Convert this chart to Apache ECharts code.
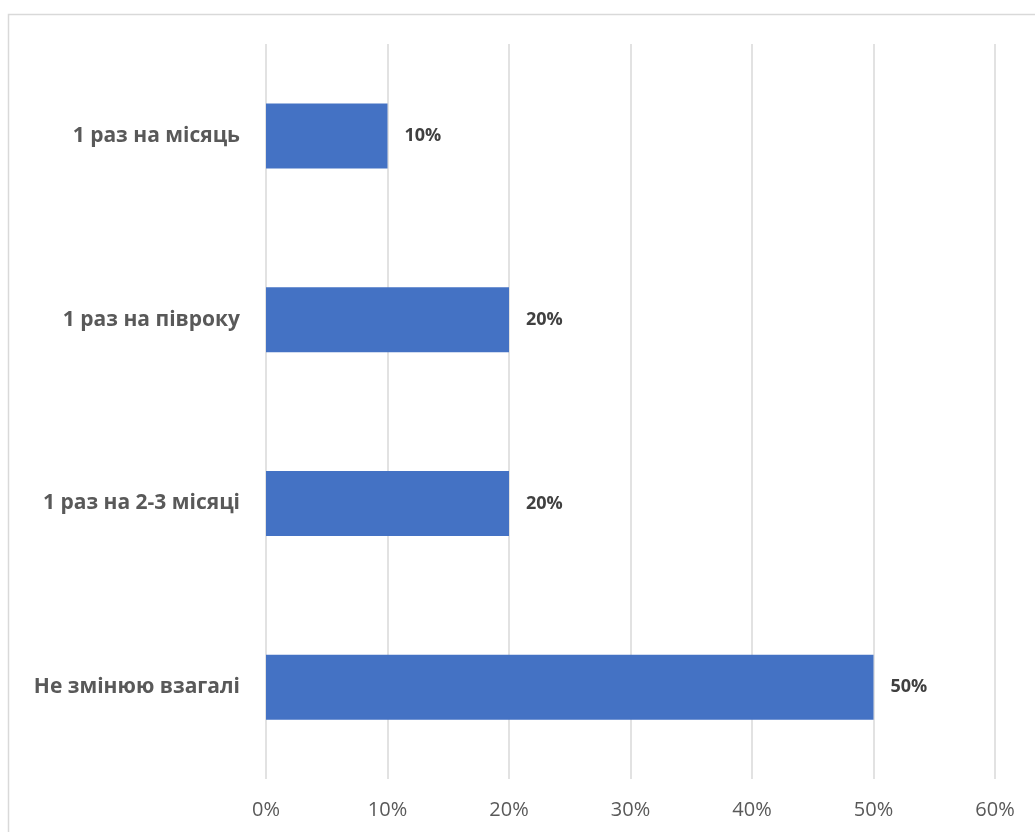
<!DOCTYPE html>
<html>
<head>
<meta charset="utf-8">
<script src="https://cdn.jsdelivr.net/npm/echarts@6/dist/echarts.min.js"></script>
<style>
  html, body { margin: 0; padding: 0; background: #fff; }
  #chart { width: 1035px; height: 832px; }
</style>
</head>
<body>
<div id="chart"></div>
<script>
// категорії зверху вниз
const categories = ["1 раз на місяць", "1 раз на півроку", "1 раз на 2-3 місяці", "Не змінюю взагалі"];
const values = [10, 20, 20, 50];
const xTicks = [0, 10, 20, 30, 40, 50, 60];

const chart = echarts.init(document.getElementById("chart"));
const font = "'Open Sans', 'Noto Sans', sans-serif";

chart.setOption({
    animation: false,
    graphic: [{
        type: "rect",
        shape: { x: 8.5, y: 14.5, width: 1100, height: 900 },
        style: { fill: "none", stroke: "#d9d9d9", lineWidth: 1.5 },
        silent: true
    }],
    grid: { left: 266, right: 40, top: 44, bottom: 53 },
    xAxis: {
        type: "value",
        min: xTicks[0],
        max: xTicks[xTicks.length - 1],
        interval: 10,
        axisLine: { show: false },
        axisTick: { show: false },
        axisLabel: {
            formatter: v => v + "%",
            color: "#595959",
            fontFamily: font,
            fontSize: 20,
            margin: 21
        },
        splitLine: { lineStyle: { color: "#d9d9d9", width: 1.5 } }
    },
    yAxis: {
        type: "category",
        data: categories,
        inverse: true,
        axisLine: { show: false },
        axisTick: { show: false },
        axisLabel: {
            color: "#595959",
            fontFamily: font,
            fontSize: 21,
            fontWeight: "bold",
            margin: 26
        }
    },
    series: [{
        type: "bar",
        data: values,
        barWidth: 65,
        itemStyle: { color: "#4472c4" },
        label: {
            show: true,
            position: "right",
            distance: 17,
            formatter: p => p.value + "%",
            color: "#404040",
            fontFamily: font,
            fontSize: 18,
            fontWeight: "bold"
        }
    }]
});
</script>
</body>
</html>
